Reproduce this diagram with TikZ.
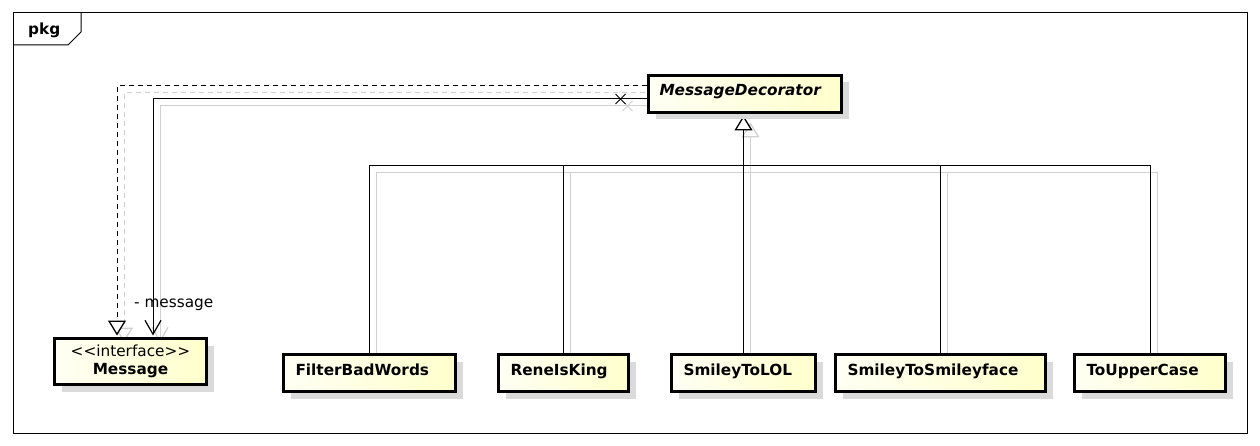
\documentclass[tikz,border=0pt]{standalone}
\usepackage{fontspec}
\newfontfamily\dejavu{DejaVu Sans}
\usetikzlibrary{arrows.meta,shadows,calc}
\definecolor{boxL}{RGB}{255,255,244}
\definecolor{boxR}{RGB}{255,255,204}
\definecolor{boxshadow}{RGB}{218,218,218}
\definecolor{lineshadow}{RGB}{208,208,208}
\pgfdeclarelayer{bg}
\pgfsetlayers{bg,main}
\tikzset{
  txt/.style={font=\fontsize{15.3}{18}\selectfont\dejavu},
  boxbase/.style={draw=black, line width=3pt, left color=boxL, right color=boxR,
    general shadow={fill=boxshadow, shadow xshift=7pt, shadow yshift=-7pt}},
  cls/.style={boxbase, inner xsep=12pt, inner ysep=0pt, minimum height=37pt,
    text height=12pt, text depth=8pt, align=left,
    font=\fontsize{15.3}{18}\selectfont\dejavu\bfseries},
  iface/.style={boxbase, inner sep=0pt, minimum width=152pt, minimum height=46pt,
    align=center, font=\fontsize{15.3}{18}\selectfont\dejavu\bfseries},
  frame/.style={draw=black, line width=1pt},
  conn/.style={draw=black, line width=1pt},
  shadowed/.style={draw=lineshadow, transform canvas={shift={(7pt,-7pt)}}},
  plain/.style={},
  gentip/.style={-{Triangle[length=15pt,width=18pt,fill=white,line width=1.3pt]}, shorten >=1.5pt},
  assoctip/.style={-{Straight Barb[length=14pt,width=16pt,line width=1.2pt]}, shorten >=1.5pt},
  realiz/.style={dash pattern=on 5pt off 4pt},
}
\newcommand\drawconnectors[1]{%
  % generalization tree
  \draw[conn,gentip,#1] (SmileyToLOL.north) -- (SmileyToLOL.north |- MessageDecorator.south);
  \draw[conn,#1] (FilterBadWords.north) |- (ToUpperCase.north |- bus) -- (ToUpperCase.north);
  \draw[conn,#1] (ReneIsKing.north) -- (ReneIsKing.north |- bus);
  \draw[conn,#1] (SmileyToSmileyface.north) -- (SmileyToSmileyface.north |- bus);
  % realization
  \draw[conn,realiz,gentip,#1] ($(MessageDecorator.west)+(0,-8)$) -| ($(Message.north)+(-13.5,0)$);
  % association
  \draw[conn,assoctip,#1] ($(MessageDecorator.west)+(0,5)$) -| ($(Message.north)+(22.5,0)$);
  \draw[conn,#1] (xm) +(-5,-5) -- +(5,5) (xm) +(-5,5) -- +(5,-5);
}
\begin{document}
\begin{tikzpicture}[x=1pt,y=-1pt]
\useasboundingbox (0,0) rectangle (1260,446);
\begin{pgfonlayer}{bg}
  \fill[white] (0,0) rectangle (1260,446);
\end{pgfonlayer}

% frame
\draw[frame] (13,13) rectangle (1247,433);
\draw[frame] (13,45) -- (68,45) -- (81,32) -- (81,13);
\node[txt, font=\fontsize{15.3}{18}\selectfont\dejavu\bfseries, anchor=base west, inner sep=0pt] (pkg) at (28,35) {pkg};

% classes
\node[cls, inner xsep=11pt, text width=171pt,
      font=\fontsize{15.3}{18}\selectfont\dejavu\bfseries\itshape] (MessageDecorator) at (745,94) {MessageDecorator};
\node[iface] (Message) at (130.5,361.5) {{\mdseries <<interface>>}\\Message};
\node[cls, text width=148pt] (FilterBadWords) at (369.5,373) {FilterBadWords};
\node[cls, text width=106pt] (ReneIsKing) at (563.5,373) {ReneIsKing};
\node[cls, text width=120pt] (SmileyToLOL) at (743.5,373) {SmileyToLOL};
\node[cls, text width=186pt] (SmileyToSmileyface) at (940.5,373) {SmileyToSmileyface};
\node[cls, text width=127pt] (ToUpperCase) at (1150,373) {ToUpperCase};

\node[txt, anchor=base west, inner sep=0pt] (msglabel) at (134,307) {- message};

\coordinate (bus) at (0,166);
\coordinate (xm) at ($(MessageDecorator.west)+(-26.5,5)$);

\begin{pgfonlayer}{bg}
  \drawconnectors{shadowed}
  \drawconnectors{plain}
\end{pgfonlayer}
\end{tikzpicture}
\end{document}
